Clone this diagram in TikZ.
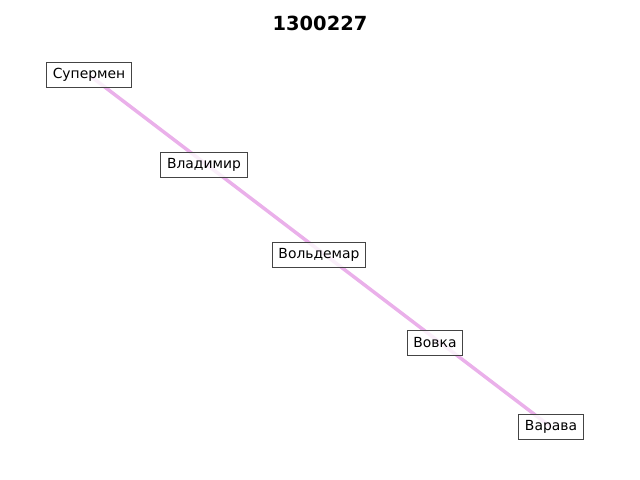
\documentclass[tikz,border=0pt]{standalone}
\usepackage{fontspec}
\setmainfont{DejaVu Sans}
\definecolor{linkc}{HTML}{EAB0EA}
\definecolor{boxc}{HTML}{444444}
\begin{document}
\begin{tikzpicture}[x=0.72pt,y=-0.72pt,
  lbl/.style={draw=boxc, line width=0.7pt, fill=white, fill opacity=0.8, text opacity=1,
    font=\fontsize{10pt}{12pt}\selectfont, inner xsep=4.5pt, inner ysep=3pt, minimum height=18.5pt},
  link/.style={draw=linkc, line width=2.5pt}]
\useasboundingbox (0,0) rectangle (640,480);
\node[font=\bfseries\fontsize{14pt}{16pt}\selectfont] (title) at (320,23) {1300227};
\coordinate (a) at (89,75);
\coordinate (e) at (551,427);
\draw[link] (a) -- (e);
\node[lbl] (n1) at (89,75) {Супермен};
\node[lbl] (n2) at (204,165) {Владимир};
\node[lbl] (n3) at (319,255) {Вольдемар};
\node[lbl] (n4) at (435,343) {Вовка};
\node[lbl] (n5) at (551,427) {Варава};
\end{tikzpicture}
\end{document}
